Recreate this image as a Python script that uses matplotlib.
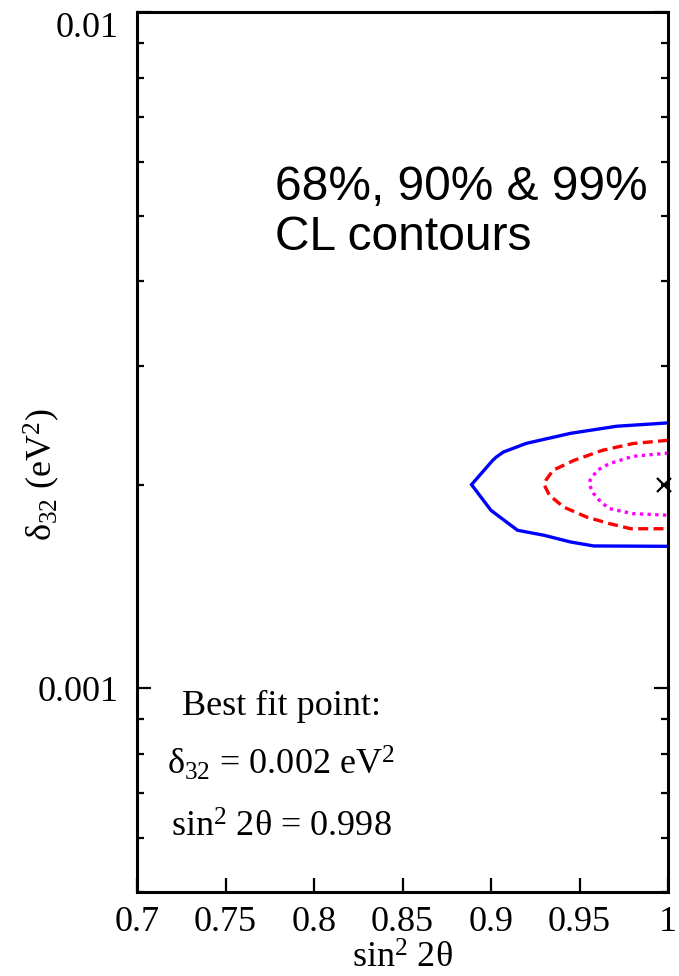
import matplotlib
matplotlib.use("Agg")
import matplotlib.pyplot as plt
from matplotlib.ticker import FixedLocator, NullFormatter, FixedFormatter

plt.rcParams['mathtext.fontset'] = 'custom'
plt.rcParams['mathtext.rm'] = 'Liberation Serif'
plt.rcParams['mathtext.it'] = 'Liberation Serif:italic'
plt.rcParams['font.family'] = ['Liberation Serif', 'DejaVu Serif']

# 99% CL contour (blue, solid)
c99_x = [1.0, 0.971, 0.945, 0.920, 0.907, 0.903, 0.901, 0.889, 0.900, 0.915, 0.930, 0.945, 0.958, 1.0]
c99_y = [0.002469, 0.002441, 0.002383, 0.002303, 0.002236, 0.002198, 0.002174, 0.002001,
         0.001833, 0.001713, 0.001684, 0.001646, 0.001624, 0.001622]
# 90% CL contour (red, dashed)
c90_x = [1.0, 0.980, 0.963, 0.947, 0.935, 0.931, 0.930, 0.933, 0.941, 0.954, 0.967, 0.979, 1.0]
c90_y = [0.002327, 0.002301, 0.002249, 0.002174, 0.002101, 0.002031, 0.002001, 0.001930,
         0.001854, 0.001792, 0.001752, 0.001722, 0.001722]
# 68% CL contour (magenta, dotted)
c68_x = [1.0, 0.980, 0.967, 0.960, 0.956, 0.9555, 0.958, 0.962, 0.967, 0.980, 1.0]
c68_y = [0.002228, 0.002203, 0.002150, 0.002101, 0.002031, 0.002001, 0.001941, 0.001886,
         0.001844, 0.001813, 0.001803]
best_x = [0.998]
best_y = [0.002]

xticks = [0.7, 0.75, 0.8, 0.85, 0.9, 0.95, 1.0]
xtick_labels = ['0.7', '0.75', '0.8', '0.85', '0.9', '0.95', '1']
yticks_major = [0.001, 0.01]
ytick_labels = ['0.001', '0.01']
yticks_minor = [0.0005, 0.0006, 0.0007, 0.0008, 0.0009, 0.002, 0.003, 0.004, 0.005,
                0.006, 0.007, 0.008, 0.009]

fig = plt.figure(figsize=(6.79, 9.76), dpi=100)
ax = fig.add_axes([137/679, 1 - 892/976, (668 - 137)/679, (892 - 12)/976])

ax.plot(c99_x, c99_y, color='#0000ff', lw=2.4, solid_joinstyle='miter')
l90, = ax.plot(c90_x, c90_y, color='#ff0000', lw=2.4)
l90.set_dashes([3.0, 1.6])
l68, = ax.plot(c68_x, c68_y, color='#ff00ff', lw=2.4)
l68.set_dashes([1.0, 1.3])
ax.plot(best_x, best_y, marker='x', color='black', ms=10, mew=1.6, ls='none', clip_on=False)

ax.set_yscale('log')
ax.set_xlim(0.7, 1.0)
ax.set_ylim(0.0005, 0.01)

ax.xaxis.set_major_locator(FixedLocator(xticks))
ax.xaxis.set_major_formatter(FixedFormatter(xtick_labels))
ax.yaxis.set_major_locator(FixedLocator(yticks_major))
ax.yaxis.set_major_formatter(FixedFormatter(ytick_labels))
ax.yaxis.set_minor_locator(FixedLocator(yticks_minor))
ax.yaxis.set_minor_formatter(NullFormatter())
ax.xaxis.set_minor_locator(FixedLocator([]))

ax.tick_params(axis='x', which='major', direction='in', length=10, width=1.6,
               labelsize=26, pad=10, top=False, bottom=True)
ax.tick_params(axis='y', which='major', direction='in', length=10, width=1.6,
               labelsize=26, pad=13, left=True, right=True)
ax.tick_params(axis='y', which='minor', direction='in', length=5, width=1.6,
               left=True, right=True)
for s in ax.spines.values():
    s.set_linewidth(2.2)

ax.set_xlabel('sin$^{2}$ 2θ', fontsize=26, labelpad=3)
ax.set_ylabel('δ$_{32}$ (eV$^{2}$)', fontsize=26)
ax.yaxis.set_label_coords(-0.141, 0.474)

sans = ['Liberation Sans', 'DejaVu Sans']
fig.text(275/679, 1 - 200/976, '68%, 90% & 99%', fontsize=34.5, family=sans,
         ha='left', va='baseline')
fig.text(275/679, 1 - 250/976, 'CL contours', fontsize=34.5, family=sans,
         ha='left', va='baseline')

fig.text(281/679, 1 - 715/976, 'Best fit point:', fontsize=26, ha='center', va='baseline')
fig.text(281/679, 1 - 775/976, 'δ$_{32}$ = 0.002 eV$^{2}$', fontsize=26, ha='center', va='baseline')
fig.text(281/679, 1 - 837/976, 'sin$^{2}$ 2θ = 0.998', fontsize=26, ha='center', va='baseline')

fig.canvas.draw()
for lab in ax.get_yticklabels():
    if lab.get_text() == '0.01':
        lab.set_va('top')

fig.savefig('out.png', dpi=100)
